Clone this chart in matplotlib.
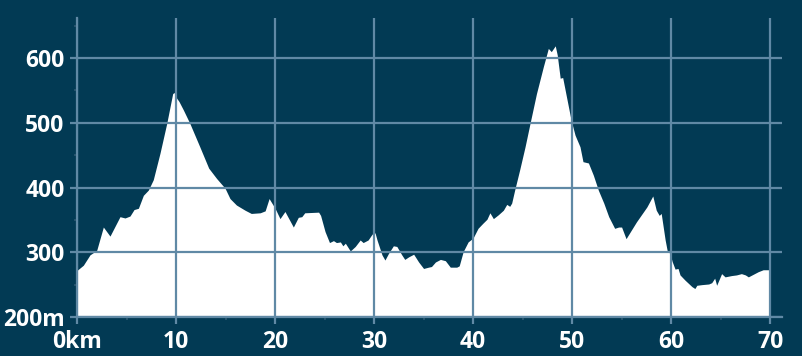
import matplotlib
matplotlib.use("Agg")
import matplotlib.pyplot as plt
from matplotlib.ticker import FixedLocator, FixedFormatter

km = [0, 0.64, 1.31, 1.99, 2.66, 3.33, 4.34, 4.85, 5.35, 5.76, 6.2, 6.7, 7.2, 7.7,
      8.38, 9.06, 9.66, 9.8, 10.07, 10.3, 10.74, 11.4, 12.4, 13.3, 14.1, 14.95,
      15.45, 16.1, 16.97, 17.6, 18.5, 19.0, 19.4, 19.8, 20.0, 20.5, 21.0, 21.85,
      22.35, 22.7, 23.0, 24.4, 24.6, 25.05, 25.5, 25.9, 26.2, 26.6, 26.85, 27.1,
      27.6, 28.1, 28.6, 28.9, 29.4, 29.8, 30.1, 30.3, 30.8, 31.1, 31.45, 31.95,
      32.3, 32.8, 33.1, 33.5, 34.0, 34.5, 35.0, 35.5, 35.8, 36.2, 36.7, 37.2,
      37.7, 38.35, 38.6, 39.0, 39.5, 40.0, 40.5, 41.0, 41.4, 41.7, 42.05, 42.55,
      43.06, 43.4, 43.7, 43.9, 44.2, 44.7, 45.25, 45.75, 46.4, 47.1, 47.6, 47.9,
      48.3, 48.5, 48.8, 49.05, 49.5, 49.9, 50.3, 50.8, 51.1, 51.65, 52.15, 52.65,
      53.2, 53.7, 54.3, 54.7, 55.0, 55.45, 56.5, 57.55, 58.15, 58.5, 58.8, 59.0,
      59.4, 59.6, 59.9, 60.1, 60.4, 60.7, 60.9, 61.4, 62.1, 62.4, 62.6, 63.1,
      63.8, 64.1, 64.4, 64.6, 65.1, 65.45, 66.1, 66.6, 67.1, 67.5, 67.8, 68.3,
      68.8, 69.3, 70.0]
elev = [272, 280, 296, 303, 339, 325, 355, 353, 356, 366, 368, 388, 396, 412,
        453, 499, 545, 547, 538, 533, 520, 499, 463, 430, 414, 399,
        383, 373, 365, 360, 361, 364, 383, 373, 368, 352, 363, 339,
        354, 355, 361, 362, 357, 332, 315, 318, 315, 316, 310, 314,
        302, 309, 319, 315, 319, 328, 330, 319, 296, 288, 298, 310,
        309, 296, 289, 293, 297, 285, 275, 277, 278, 285, 289, 287,
        277, 277, 279, 301, 316, 322, 337, 345, 351, 361, 352, 358,
        365, 374, 371, 376, 396, 427, 463, 499, 545, 587, 615, 610,
        619, 605, 569, 570, 535, 504, 481, 463, 440, 438, 419, 396,
        376, 355, 337, 339, 339, 321, 347, 370, 387, 365, 357, 360,
        319, 303, 298, 286, 274, 275, 265, 257, 247, 244, 249, 250,
        251, 253, 260, 249, 267, 262, 264, 265, 267, 265, 262, 266,
        270, 273, 273]

x_ticks = [0, 10, 20, 30, 40, 50, 60, 70]
x_labels = ["0km", "10", "20", "30", "40", "50", "60", "70"]
y_ticks = [200, 300, 400, 500, 600]
y_labels = ["200m", "300", "400", "500", "600"]

BG = "#023a54"
GRID = "#6089a5"

fig = plt.figure(figsize=(8.02, 3.56), dpi=100, facecolor=BG)
ax = fig.add_axes([77/802, 1 - 317/356, (782-77)/802, (317-18)/356])
ax.set_facecolor(BG)

ax.fill_between(km, elev, 200, color="white", linewidth=0, zorder=1)

ax.set_xlim(0, 71.2)
ax.set_ylim(200, 662)

ax.xaxis.set_major_locator(FixedLocator(x_ticks))
ax.xaxis.set_major_formatter(FixedFormatter(x_labels))
ax.yaxis.set_major_locator(FixedLocator(y_ticks))
ax.yaxis.set_major_formatter(FixedFormatter(y_labels))
ax.xaxis.set_minor_locator(FixedLocator([5, 15, 25, 35, 45, 55, 65]))
ax.yaxis.set_minor_locator(FixedLocator([250, 350, 450, 550, 650]))

ax.set_axisbelow(False)
ax.grid(True, which="major", color=GRID, linewidth=1.6)

for s in ["top", "right"]:
    ax.spines[s].set_visible(False)
for s in ["left", "bottom"]:
    ax.spines[s].set_color(GRID)
    ax.spines[s].set_linewidth(1.6)
    ax.spines[s].set_zorder(3)

ax.tick_params(which="major", length=5, width=1.6, color=GRID, pad=4,
               labelcolor="white", labelsize=16.5)
ax.tick_params(which="minor", length=2.5, width=1.2, color="#2b5670")
for lab in ax.get_xticklabels() + ax.get_yticklabels():
    lab.set_fontfamily("Open Sans")
    lab.set_fontweight("bold")

fig.savefig("out.png", dpi=100, facecolor=BG)
